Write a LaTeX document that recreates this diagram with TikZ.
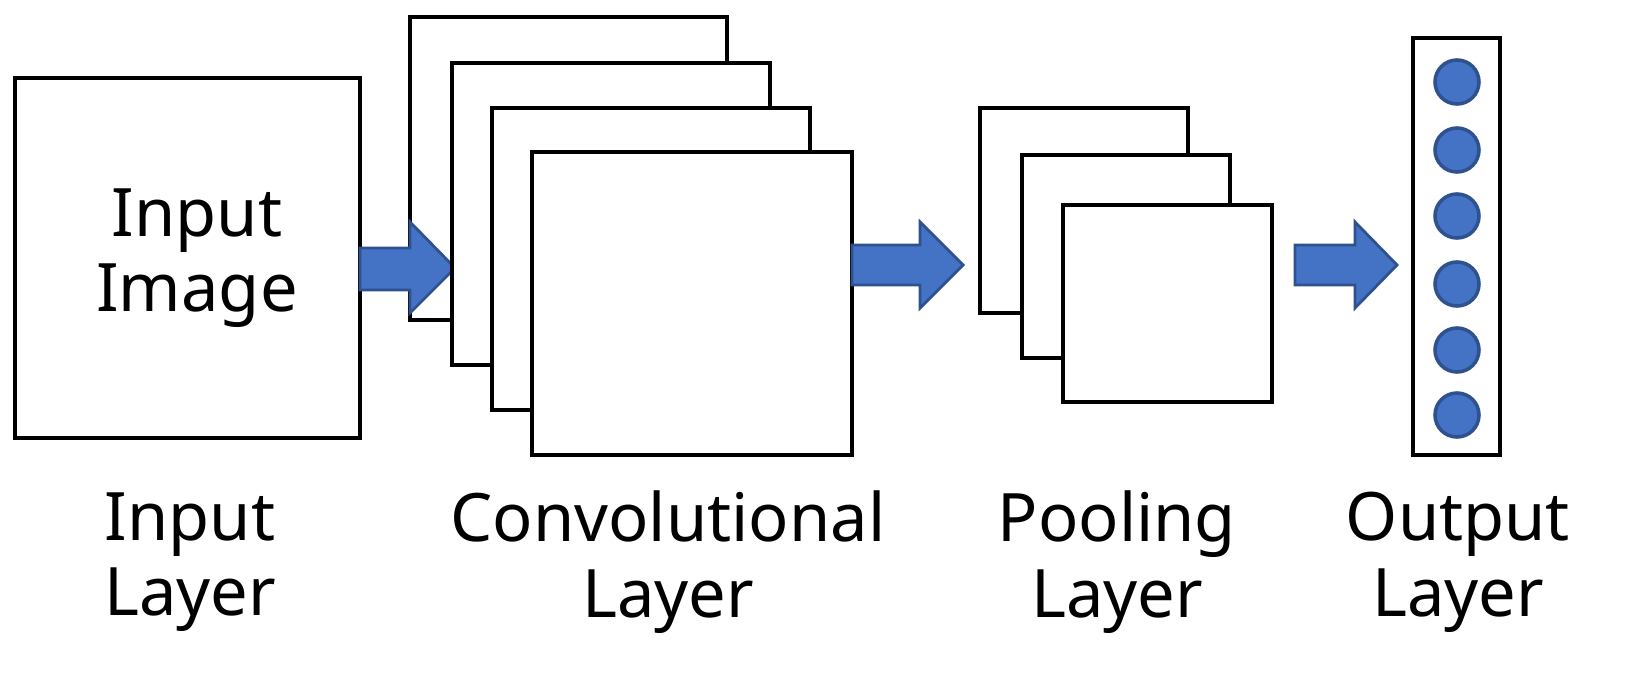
\documentclass[tikz,border=0pt]{standalone}
\usepackage{fontspec}
\setmainfont{Noto Sans}
\usetikzlibrary{shapes.arrows}
\definecolor{ablue}{HTML}{4472C4}
\definecolor{adark}{HTML}{2F528F}
\begin{document}
\begin{tikzpicture}[x=0.01cm,y=-0.01cm,
  box/.style={draw=black,line width=1.2pt,fill=white},
  arr/.style={draw=adark,fill=ablue,line width=0.8pt},
  lbl/.style={font=\fontsize{19}{21.5}\selectfont,align=center},
  dot/.style={circle,draw=adark,fill=ablue,line width=1pt,minimum size=0.44cm,inner sep=0pt}]
\useasboundingbox (0,0) rectangle (1636,679);
% input
\draw[box] (15,78) rectangle (360,438);
\node[lbl] (inimg) at (197,258) {Input\\Image};
% conv frames
\draw[box] (410,17) rectangle (727,320);
\draw[arr] (360,248) -- (410,248) -- (410,222) -- (455,268) -- (410,313) -- (410,290) -- (360,290) -- cycle;
\draw[box] (452,63) rectangle (770,365);
\draw[box] (492,108) rectangle (810,410);
\draw[box] (532,152) rectangle (852,455);
\draw[arr] (852,245) -- (920,245) -- (920,222) -- (963,265) -- (920,308) -- (920,285) -- (852,285) -- cycle;
% pooling
\draw[box] (980,108) rectangle (1188,313);
\draw[box] (1022,155) rectangle (1230,358);
\draw[box] (1063,205) rectangle (1272,402);
\draw[arr] (1295,245) -- (1355,245) -- (1355,222) -- (1397,265) -- (1355,308) -- (1355,285) -- (1295,285) -- cycle;
% output
\draw[box] (1413,38) rectangle (1500,455);
\foreach \y [count=\i] in {82,150,216,284,350,415}
  \node[dot] (o\i) at (1457,\y) {};
% labels
\node[lbl] (l1) at (190,562) {Input\\Layer};
\node[lbl] (l2) at (668,562) {Convolutional\\Layer};
\node[lbl] (l3) at (1117,562) {Pooling\\Layer};
\node[lbl] (l4) at (1458,562) {Output\\Layer};
\end{tikzpicture}
\end{document}
